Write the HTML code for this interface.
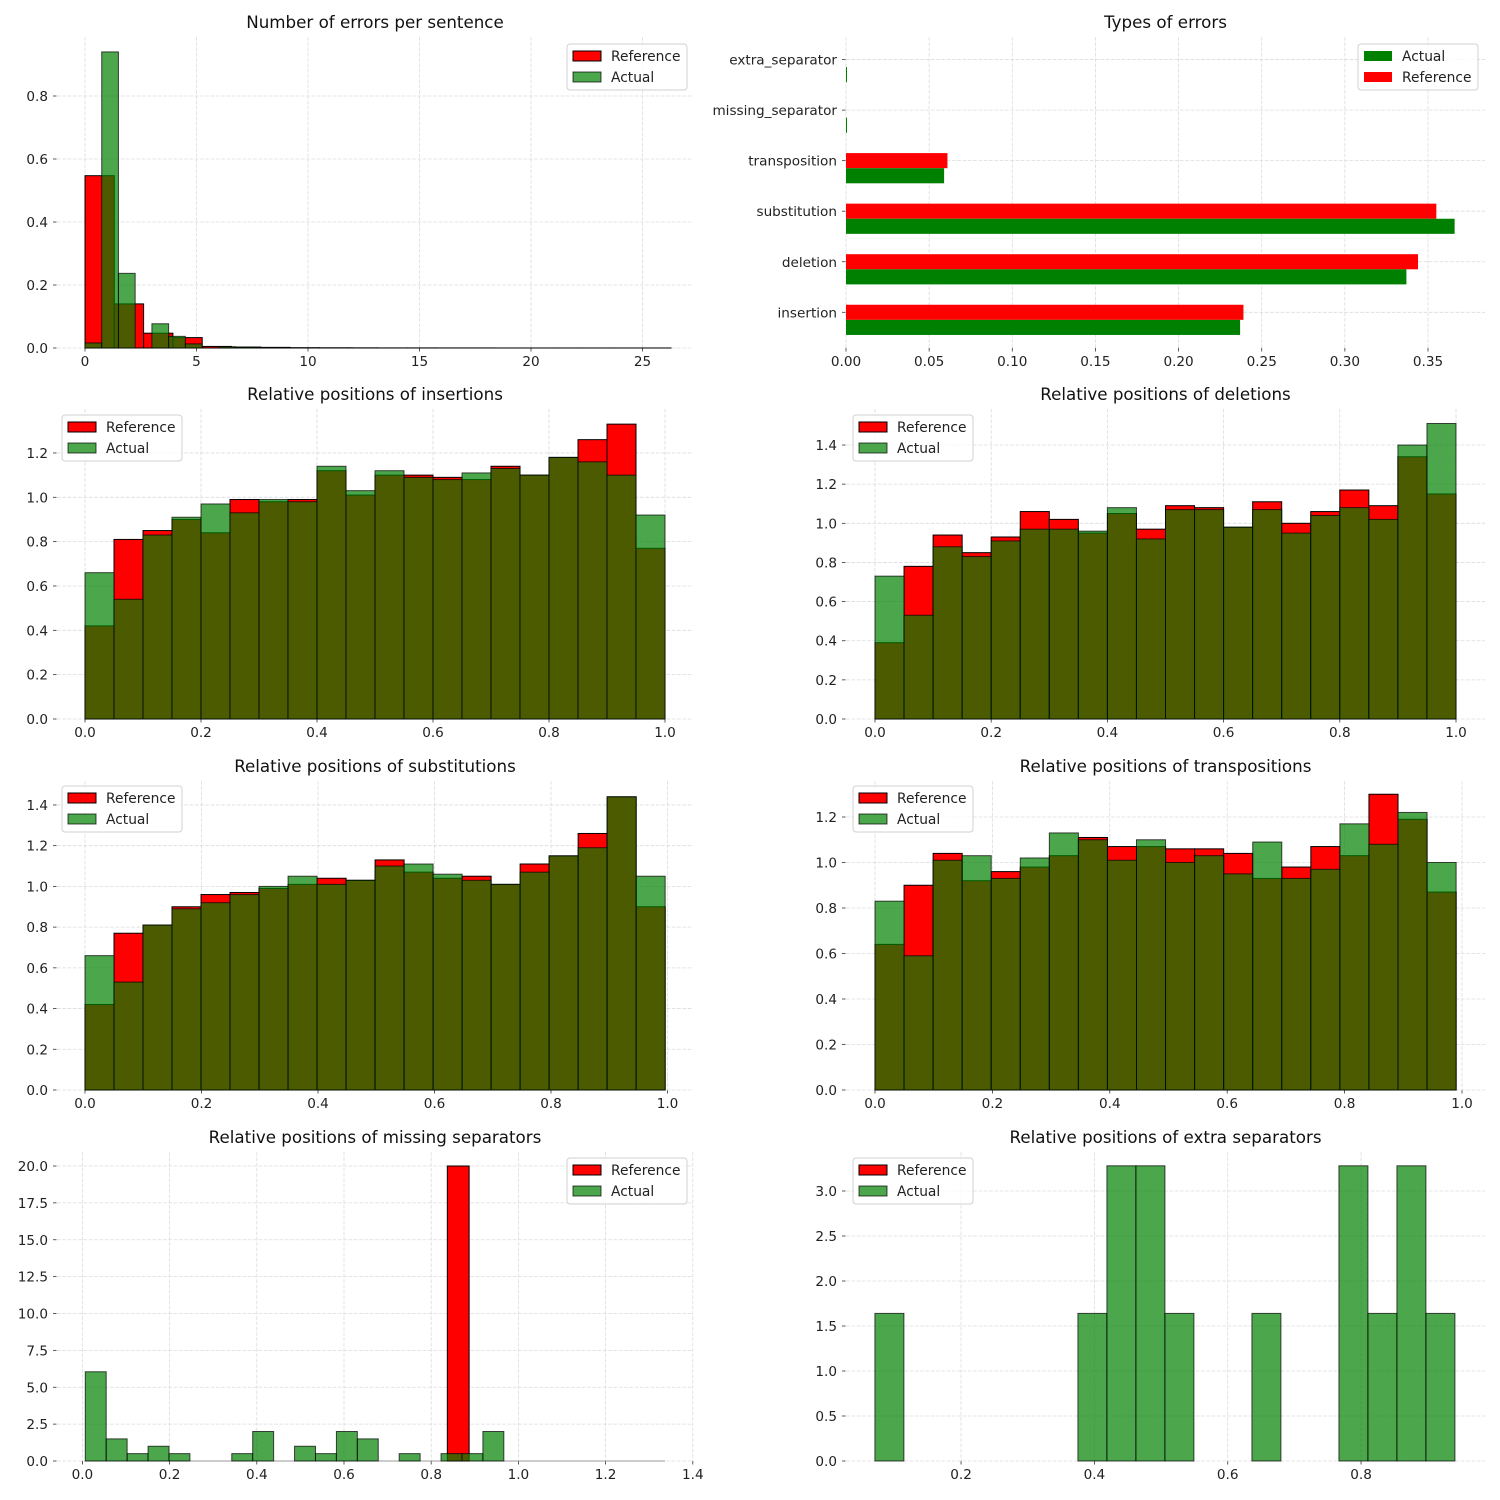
<!DOCTYPE html>
<html><head><meta charset="utf-8">
<style>
html,body{margin:0;padding:0;background:#fff;}
svg{display:block;font-family:"DejaVu Sans","Liberation Sans",sans-serif;}
</style></head>
<body>
<svg id="fig" width="1500" height="1500" viewBox="0 0 1500 1500" xmlns="http://www.w3.org/2000/svg"></svg>
<script>
// ---------- DATA ----------
const p1RefValues = [0.547,0.14,0.047,0.033,0.005,0.003,0.002,0.001,0.0005,0.0005,0.0003,0.0003,0.0002,0.0002,0.0001,0.0001,0.0001,0.0001,0.0001,0.0001];
const p1ActValues = [0.016,0.94,0.237,0,0.077,0.037,0.013,0,0.004,0.002,0.001,0.001,0,0,0.0005,0.0005,0,0,0,0];
const p1RefBin = [0, 1.314];
const p1ActBin = [0, 0.75];
const p1XTicks = [0,5,10,15,20,25];
const p1YTicks = [0,0.2,0.4,0.6,0.8];

const errCategories = ["insertion","deletion","substitution","transposition","missing_separator","extra_separator"];
const errActual = [0.237,0.337,0.366,0.059,0.0005,0.0005];
const errReference = [0.239,0.344,0.355,0.061,0,0];
const p2XTicks = [0,0.05,0.10,0.15,0.20,0.25,0.30,0.35];

const insRef = [0.42,0.81,0.85,0.90,0.84,0.99,0.98,0.99,1.12,1.01,1.10,1.10,1.09,1.08,1.14,1.10,1.18,1.26,1.33,0.77];
const insAct = [0.66,0.54,0.83,0.91,0.97,0.93,0.99,0.98,1.14,1.03,1.12,1.09,1.08,1.11,1.13,1.10,1.18,1.16,1.10,0.92];
const delRef = [0.39,0.78,0.94,0.85,0.93,1.06,1.02,0.95,1.05,0.97,1.09,1.08,0.98,1.11,1.00,1.06,1.17,1.09,1.34,1.15];
const delAct = [0.73,0.53,0.88,0.83,0.91,0.97,0.97,0.96,1.08,0.92,1.07,1.07,0.98,1.07,0.95,1.04,1.08,1.02,1.40,1.51];
const subRef = [0.42,0.77,0.81,0.90,0.96,0.97,0.99,1.01,1.04,1.03,1.13,1.07,1.04,1.05,1.01,1.11,1.15,1.26,1.44,0.90];
const subAct = [0.66,0.53,0.81,0.89,0.92,0.96,1.00,1.05,1.01,1.03,1.10,1.11,1.06,1.03,1.01,1.07,1.15,1.19,1.44,1.05];
const traRef = [0.64,0.90,1.04,0.92,0.96,0.98,1.03,1.11,1.07,1.07,1.06,1.06,1.04,0.93,0.98,1.07,1.03,1.30,1.19,0.87];
const traAct = [0.83,0.59,1.01,1.03,0.93,1.02,1.13,1.10,1.01,1.10,1.00,1.03,0.95,1.09,0.93,0.97,1.17,1.08,1.22,1.00];
const misRef = [20];
const misAct = [6.05,1.5,0.5,1.0,0.5,0,0,0.5,2.0,0,1.0,0.5,2.0,1.5,0,0.5,0,0.5,0.5,2.0];
const extRef = [];
const extAct = [1.64,0,0,0,0,0,0,1.64,3.28,3.28,1.64,0,0,1.64,0,0,3.28,1.64,3.28,1.64];
const posXTicks = [0,0.2,0.4,0.6,0.8,1.0];
const misXTicks = [0,0.2,0.4,0.6,0.8,1.0,1.2,1.4];
const extXTicks = [0.2,0.4,0.6,0.8];
const yTicks12 = [0,0.2,0.4,0.6,0.8,1.0,1.2];
const yTicks14 = [0,0.2,0.4,0.6,0.8,1.0,1.2,1.4];
const misYTicks = [0,2.5,5,7.5,10,12.5,15,17.5,20];
const extYTicks = [0,0.5,1,1.5,2,2.5,3];

// ---------- DRAW ----------
const NS = "http://www.w3.org/2000/svg";
const fig = document.getElementById('fig');
const TICK_FS = 13.6;
function mk(tag, attrs, parent){
  const e = document.createElementNS(NS, tag);
  for (const k in attrs) e.setAttribute(k, attrs[k]);
  (parent||fig).appendChild(e);
  return e;
}
function makePanel(id, cfg){
  const g = mk('g', {});
  
  
  const X = v => cfg.x0 + v*cfg.xs;
  const Y = v => cfg.y0 - v*cfg.ys;
  return {g, X, Y, cfg};
}
function grid(p, xt, yt, xfmt, yfmt){
  const c = p.cfg;
  xt.forEach(t=>{
    const x = p.X(t);
    const l = mk('line',{x1:x,x2:x,y1:c.top,y2:c.bottom,stroke:'#dcdcdc','stroke-width':0.8,'stroke-dasharray':'3.7,1.6'},p.g);
    
    
    const tk = mk('line',{x1:x,x2:x,y1:c.bottom,y2:c.bottom+3.5,stroke:'#333','stroke-width':0.8},p.g);
    
    
    const tx = mk('text',{x:x,y:c.bottom+18,'font-size':TICK_FS,'text-anchor':'middle',fill:'#222'},p.g);
    tx.textContent = xfmt(t);
    
    
  });
  yt.forEach(t=>{
    const y = p.Y(t);
    const l = mk('line',{x1:c.left,x2:c.right,y1:y,y2:y,stroke:'#dcdcdc','stroke-width':0.8,'stroke-dasharray':'3.7,1.6'},p.g);
    
    
    const tk = mk('line',{x1:c.left-4,x2:c.left-0.5,y1:y,y2:y,stroke:'#333','stroke-width':0.8},p.g);
    
    
    const tx = mk('text',{x:c.left-9,y:y+5,'font-size':TICK_FS,'text-anchor':'end',fill:'#222'},p.g);
    tx.textContent = yfmt(t);
    
    
  });
}
function title(p, s){
  const c = p.cfg;
  const t = mk('text',{x:(c.left+c.right)/2,y:c.top-9,'font-size':16.7,'text-anchor':'middle',fill:'#111'},p.g);
  t.textContent = s;
  
  
}
function hist(p, bin, vals, kind){
  vals.forEach((v,i)=>{
    const a = bin[0] + i*bin[1], b = a + bin[1];
    const x1 = p.X(a), x2 = p.X(b), y = p.Y(v);
    const attrs = {x:x1,y:y,width:Math.max(0,x2-x1),height:Math.max(0,p.cfg.y0-y),'stroke-width':1};
    if (kind==='ref'){ attrs.fill='#ff0000'; attrs.stroke='#000'; }
    else { attrs.fill='#008000'; attrs['fill-opacity']=0.7; attrs.stroke='#000'; attrs['stroke-opacity']=0.7; }
    const r = mk('rect', attrs, p.g);
    
    
  });
}
function legend(p, lx, ly, entries){
  const lg = mk('g',{},p.g);
  
  
  mk('rect',{x:lx,y:ly,width:120,height:46,rx:3,fill:'#fff','fill-opacity':0.8,stroke:'#d0d0d0','stroke-width':1},lg);
  entries.forEach((e,i)=>{
    const ey = ly + 12 + i*21;
    const sw = mk('rect',Object.assign({x:lx+6,y:ey-5,width:28,height:10},e.style),lg);
    
    
    const t = mk('text',{x:lx+44,y:ey+5,'font-size':13.8,fill:'#222'},lg);
    t.textContent = e.label;
    
    
  });
}
const refStyle = {fill:'#ff0000',stroke:'#000','stroke-width':1};
const actStyle = {fill:'#008000','fill-opacity':0.7,stroke:'#000','stroke-opacity':0.7,'stroke-width':1};
const f1 = t => t.toFixed(1);
const f0 = t => String(t);
const f2 = t => t.toFixed(2);

// Panel 1
let p = makePanel('errors-per-sentence',{x0:85,xs:22.3,y0:348,ys:315,left:57,right:693,top:37,bottom:348});
grid(p,p1XTicks,p1YTicks,f0,f1);
mk('line',{x1:85,x2:665,y1:348,y2:348,stroke:'#999','stroke-width':1},p.g);
hist(p,p1RefBin,p1RefValues,'ref');
hist(p,p1ActBin,p1ActValues,'act');
title(p,'Number of errors per sentence');
legend(p,567,44,[{label:'Reference',style:refStyle},{label:'Actual',style:actStyle}]);

// Panel 2: horizontal bars
p = makePanel('types-of-errors',{x0:846,xs:1662.9,y0:0,ys:0,left:846,right:1485,top:37,bottom:348});
(function(){
  const c = p.cfg;
  const catY = i => 312.3 - i*50.55;
  const bh = 15.1;
  p2XTicks.forEach(t=>{
    const x = p.X(t);
    const l = mk('line',{x1:x,x2:x,y1:c.top,y2:c.bottom,stroke:'#dcdcdc','stroke-width':0.8,'stroke-dasharray':'3.7,1.6'},p.g);
    
    
    const tk = mk('line',{x1:x,x2:x,y1:c.bottom,y2:c.bottom+3.5,stroke:'#333','stroke-width':0.8},p.g);
    
    
    const tx = mk('text',{x:x,y:c.bottom+18,'font-size':TICK_FS,'text-anchor':'middle',fill:'#222'},p.g);
    tx.textContent = f2(t);
    
    
  });
  errCategories.forEach((cat,i)=>{
    const y = catY(i);
    const l = mk('line',{x1:c.left,x2:c.right,y1:y,y2:y,stroke:'#dcdcdc','stroke-width':0.8,'stroke-dasharray':'3.7,1.6'},p.g);
    
    
    const tk = mk('line',{x1:c.left-4,x2:c.left-0.5,y1:y,y2:y,stroke:'#333','stroke-width':0.8},p.g);
    
    
    const tx = mk('text',{x:c.left-9,y:y+5,'font-size':TICK_FS,'text-anchor':'end',fill:'#222'},p.g);
    tx.textContent = cat;
    
    
  });
  errCategories.forEach((cat,i)=>{
    const y = catY(i);
    const r1 = mk('rect',{x:p.X(0),y:y-bh/2,width:p.X(errReference[i])-p.X(0),height:bh,fill:'#ff0000'},p.g);
    
    
    const r2 = mk('rect',{x:p.X(0),y:y+bh/2,width:Math.max(1,p.X(errActual[i])-p.X(0)),height:bh,fill:'#008000'},p.g);
    
    
  });
})();
title(p,'Types of errors');
legend(p,1358,44,[{label:'Actual',style:{fill:'#008000'}},{label:'Reference',style:{fill:'#ff0000'}}]);

// Panel 3 insertions
p = makePanel('insertions',{x0:85,xs:580,y0:719,ys:221.7,left:57,right:693,top:409,bottom:719});
grid(p,posXTicks,yTicks12,f1,f1);
hist(p,[0,0.05],insRef,'ref'); hist(p,[0,0.05],insAct,'act');
title(p,'Relative positions of insertions');
legend(p,62,415,[{label:'Reference',style:refStyle},{label:'Actual',style:actStyle}]);

// Panel 4 deletions
p = makePanel('deletions',{x0:875,xs:581,y0:719,ys:195.7,left:846,right:1485,top:409,bottom:719});
grid(p,posXTicks,yTicks14,f1,f1);
hist(p,[0,0.05],delRef,'ref'); hist(p,[0,0.05],delAct,'act');
title(p,'Relative positions of deletions');
legend(p,853,415,[{label:'Reference',style:refStyle},{label:'Actual',style:actStyle}]);

// Panel 5 substitutions
p = makePanel('substitutions',{x0:85,xs:582.5,y0:1090,ys:203.6,left:57,right:693,top:781,bottom:1090});
grid(p,posXTicks,yTicks14,f1,f1);
hist(p,[0,0.0498],subRef,'ref'); hist(p,[0,0.0498],subAct,'act');
title(p,'Relative positions of substitutions');
legend(p,62,786,[{label:'Reference',style:refStyle},{label:'Actual',style:actStyle}]);

// Panel 6 transpositions
p = makePanel('transpositions',{x0:875,xs:587,y0:1090,ys:227.5,left:846,right:1485,top:781,bottom:1090});
grid(p,posXTicks,yTicks12,f1,f1);
hist(p,[0,0.0495],traRef,'ref'); hist(p,[0,0.0495],traAct,'act');
title(p,'Relative positions of transpositions');
legend(p,853,786,[{label:'Reference',style:refStyle},{label:'Actual',style:actStyle}]);

// Panel 7 missing separators
p = makePanel('missing-separators',{x0:82.4,xs:436,y0:1461,ys:14.75,left:57,right:693,top:1152,bottom:1461});
grid(p,misXTicks,misYTicks,f1,f1);
mk('line',{x1:85,x2:665,y1:1461,y2:1461,stroke:'#999','stroke-width':1},p.g);
hist(p,[0.837,0.05],misRef,'ref'); hist(p,[0.0066,0.048],misAct,'act');
title(p,'Relative positions of missing separators');
legend(p,567,1158,[{label:'Reference',style:refStyle},{label:'Actual',style:actStyle}]);

// Panel 8 extra separators
p = makePanel('extra-separators',{x0:827.7,xs:666.7,y0:1461,ys:90,left:846,right:1485,top:1152,bottom:1461});
grid(p,extXTicks,extYTicks,f1,f1);
hist(p,[0.0708,0.0435],extRef,'ref'); hist(p,[0.0708,0.0435],extAct,'act');
title(p,'Relative positions of extra separators');
legend(p,853,1158,[{label:'Reference',style:refStyle},{label:'Actual',style:actStyle}]);
</script>
</body></html>
